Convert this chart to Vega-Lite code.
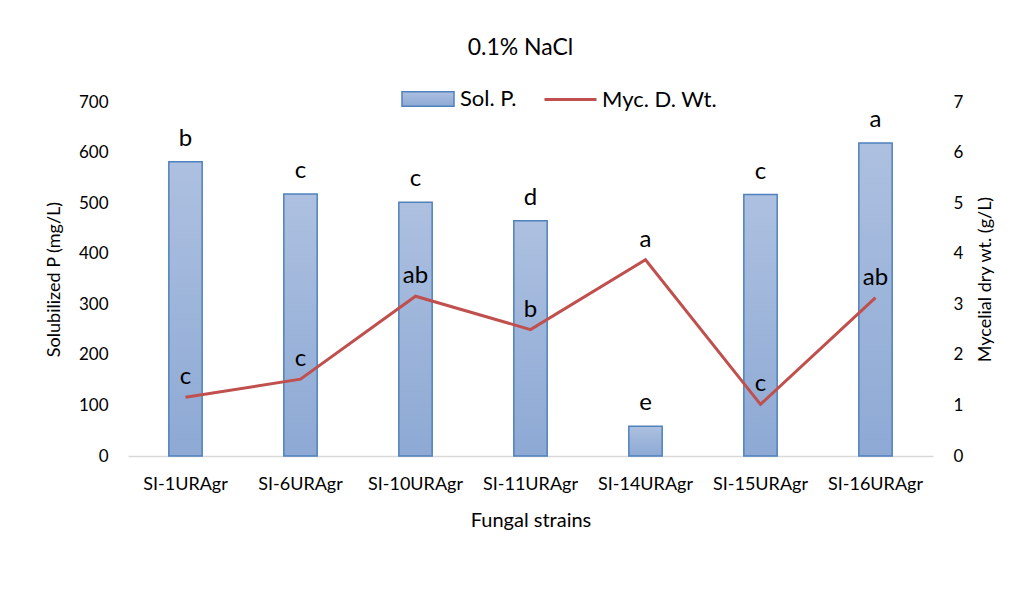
{
  "$schema": "https://vega.github.io/schema/vega-lite/v6.json",
  "width": 805,
  "height": 354,
  "autosize": {"type": "none"},
  "padding": {"left": 128, "top": 102, "right": 84, "bottom": 160},
  "background": "white",
  "config": {
    "font": "Lato",
    "view": {"stroke": null},
    "axis": {"grid": false, "ticks": false, "labelFont": "Lato", "titleFont": "Lato", "labelColor": "#000000", "titleColor": "#000000", "titleFontWeight": "normal"},
    "legend": {"labelFont": "Lato", "labelColor": "#000000"}
  },
  "title": {"text": "0.1% NaCl", "fontSize": 23, "fontWeight": "normal", "font": "Lato", "color": "#000000", "anchor": "middle", "baseline": "alphabetic", "offset": 46, "dy": 52, "dx": -10},
  "data": {
    "values": [
      {"strain": "SI-1URAgr", "solP": 582, "myc": 1.16, "solL": "b", "mycL": "c"},
      {"strain": "SI-6URAgr", "solP": 518, "myc": 1.52, "solL": "c", "mycL": "c"},
      {"strain": "SI-10URAgr", "solP": 502, "myc": 3.16, "solL": "c", "mycL": "ab"},
      {"strain": "SI-11URAgr", "solP": 465, "myc": 2.5, "solL": "d", "mycL": "b"},
      {"strain": "SI-14URAgr", "solP": 59, "myc": 3.88, "solL": "e", "mycL": "a"},
      {"strain": "SI-15URAgr", "solP": 517, "myc": 1.02, "solL": "c", "mycL": "c"},
      {"strain": "SI-16URAgr", "solP": 619, "myc": 3.13, "solL": "a", "mycL": "ab"}
    ]
  },
  "encoding": {
    "x": {
      "field": "strain", "type": "nominal", "sort": null,
      "scale": {"paddingInner": 0.71, "paddingOuter": 0.355},
      "axis": {"title": "Fungal strains", "labelAngle": 0, "labelFontSize": 18, "labelPadding": 19, "titleFontSize": 20, "titleY": 64, "titleBaseline": "middle", "domain": true, "domainColor": "#d9d9d9", "domainWidth": 1.5}
    }
  },
  "layer": [
    {
      "mark": {"type": "bar", "strokeWidth": 1.5, "fill": {"gradient": "linear", "x1": 0, "y1": 0, "x2": 0, "y2": 1, "stops": [{"offset": 0, "color": "#adc0e0"}, {"offset": 1, "color": "#8da9d4"}]}},
      "encoding": {
        "y": {"field": "solP", "type": "quantitative", "scale": {"domain": [0, 700]}, "axis": {"title": "Solubilized P (mg/L)", "values": [0, 100, 200, 300, 400, 500, 600, 700], "domain": false, "labelFontSize": 17, "labelPadding": 20, "titleFontSize": 18, "titleX": -74, "titleY": 177, "titleBaseline": "middle", "titleAngle": -90}},
        "stroke": {"datum": "Sol. P.", "scale": {"domain": ["Sol. P."], "range": ["#4f81bd"]}, "legend": {"orient": "none", "legendX": 273, "legendY": -30, "title": null, "symbolType": "M-1,-0.28H1V0.28H-1Z", "symbolSize": 2704, "symbolFillColor": "#a3b8dc", "symbolStrokeWidth": 1.5, "labelFontSize": 22, "labelOffset": 5}}
      }
    },
    {
      "mark": {"type": "text", "fontSize": 24, "baseline": "bottom", "dy": -11, "color": "#000000"},
      "encoding": {
        "y": {"field": "solP", "type": "quantitative", "scale": {"domain": [0, 700]}, "axis": null},
        "text": {"field": "solL"}
      }
    },
    {
      "mark": {"type": "line", "strokeWidth": 3},
      "encoding": {
        "y": {"field": "myc", "type": "quantitative", "scale": {"domain": [0, 7]}, "axis": {"title": "Mycelial dry wt. (g/L)", "orient": "right", "values": [0, 1, 2, 3, 4, 5, 6, 7], "domain": false, "labelFontSize": 17, "labelPadding": 20, "titleFontSize": 18, "titleX": 52, "titleY": 177, "titleBaseline": "middle", "titleAngle": -90}},
        "color": {"datum": "Myc. D. Wt.", "scale": {"domain": ["Myc. D. Wt."], "range": ["#c0504d"]}, "legend": {"orient": "none", "legendX": 415, "legendY": -30, "title": null, "symbolType": "stroke", "symbolSize": 2704, "symbolStrokeWidth": 3, "labelFontSize": 22, "labelOffset": 4}}
      }
    },
    {
      "mark": {"type": "text", "fontSize": 24, "baseline": "bottom", "dy": -8, "color": "#000000"},
      "encoding": {
        "y": {"field": "myc", "type": "quantitative", "scale": {"domain": [0, 7]}, "axis": null},
        "text": {"field": "mycL"}
      }
    }
  ],
  "resolve": {"scale": {"y": "independent"}}
}
